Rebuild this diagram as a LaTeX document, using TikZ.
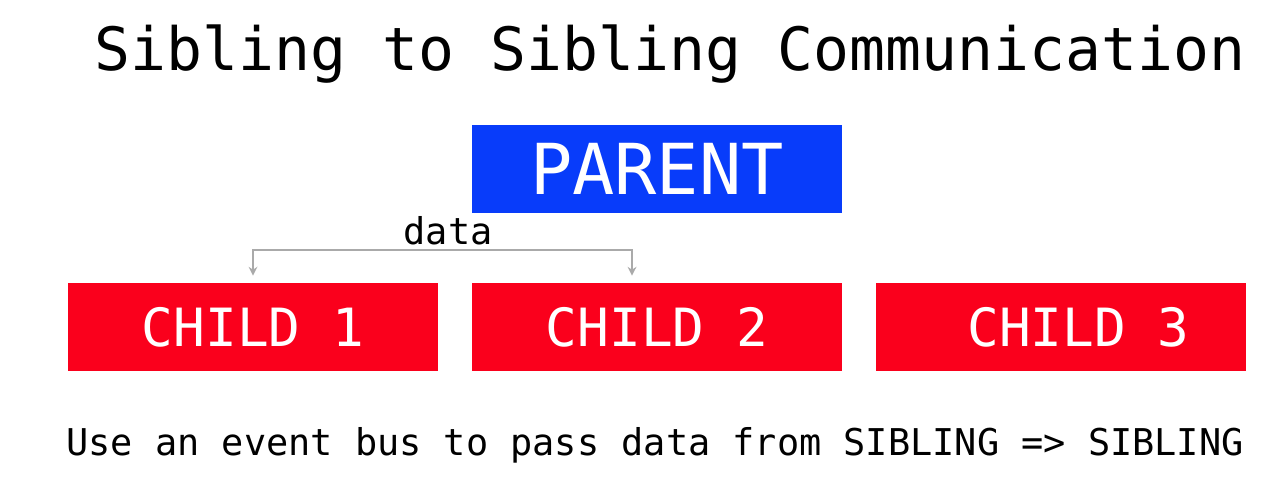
\documentclass[tikz,border=0pt]{standalone}
\usepackage{fontspec}
\setmonofont{DejaVu Sans Mono}
\usepackage{tikz}
\usetikzlibrary{arrows.meta}

\definecolor{parentblue}{RGB}{8,60,250}
\definecolor{childred}{RGB}{250,0,28}
\definecolor{linkgray}{RGB}{170,170,170}

\tikzset{
  box/.style={minimum width=7.42cm, minimum height=1.76cm, inner sep=0pt,
    text=white, font=\ttfamily\fontsize{30}{30}\selectfont},
  parentbox/.style={box, fill=parentblue, font=\ttfamily\fontsize{40}{40}\selectfont},
  childbox/.style={box, fill=childred},
  datalink/.style={draw=linkgray, line width=1.3pt, {Stealth[length=5pt,width=5pt]}-{Stealth[length=5pt,width=5pt]}}
}

\begin{document}
\begin{tikzpicture}[x=0.02cm, y=-0.02cm]
  \useasboundingbox (0,0) rectangle (1281,483);

  \node[font=\ttfamily\fontsize{34}{34}\selectfont] (title) at (670,54) {Sibling to Sibling Communication};

  \node[parentbox] (parent) at (657,169) {PARENT};

  \node[childbox] (child1) at (253,327) {CHILD 1};
  \node[childbox] (child2) at (657,327) {CHILD 2};
  \node[childbox] (child3) at (1061,327) {\hspace{0.7cm}CHILD 3};

  \node[font=\ttfamily\fontsize{21}{21}\selectfont] (datalabel) at (448,231) {data};

  \draw[datalink] ([yshift=0.14cm]child1.north) -- ++(0,-26) -| ([xshift=-0.5cm, yshift=0.14cm]child2.north);

  \node[font=\ttfamily\fontsize{21}{21}\selectfont] (note) at (655,445) {Use an event bus to pass data from SIBLING => SIBLING};
\end{tikzpicture}
\end{document}
